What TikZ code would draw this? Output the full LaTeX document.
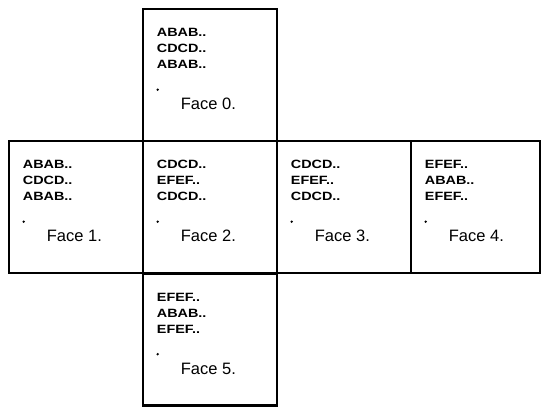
\documentclass[tikz,border=0pt]{standalone}
\usepackage{fontspec}
\setmainfont{Liberation Sans}
\newfontfamily\boldlab[FakeStretch=1.2]{Liberation Sans Bold}
\begin{document}
\begin{tikzpicture}[x=1pt,y=-1pt,
  face/.style={draw=black, line width=2.6pt, minimum width=134pt, minimum height=132pt, inner sep=0pt},
  lines/.style={anchor=base west, inner sep=0pt, font=\boldlab\fontsize{12}{14}\selectfont},
  facelab/.style={anchor=base west, inner sep=0pt, font=\fontsize{16.5}{20}\selectfont},
  dotmark/.style={circle, fill=black, inner sep=0pt, minimum size=2.6pt}]
\useasboundingbox (0,0) rectangle (542,410);
% faces
\node[face] (f0) at (210,75) {};
\node[face] (f1) at (76,207) {};
\node[face] (f2) at (210,207) {};
\node[face] (f3) at (344,207) {};
\node[face, minimum width=129pt] (f4) at (475.5,207) {};
\node[face] (f5) at (210,339.5) {};
% contents
\foreach \f/\a/\b/\c/\n in {f0/ABAB../CDCD../ABAB../0, f1/ABAB../CDCD../ABAB../1, f2/CDCD../EFEF../CDCD../2, f3/CDCD../EFEF../CDCD../3, f4/EFEF../ABAB../EFEF../4, f5/EFEF../ABAB../EFEF../5}{
  \node[lines] (\f a) at ([shift={(15,29)}]\f.north west) {\a};
  \node[lines] (\f b) at ([shift={(15,45)}]\f.north west) {\b};
  \node[lines] (\f c) at ([shift={(15,61)}]\f.north west) {\c};
  \node[dotmark] (\f d) at ([shift={(16,82)}]\f.north west) {};
  \node[facelab] (\f l) at ([shift={(39,102)}]\f.north west) {Face \n.};
}
\end{tikzpicture}
\end{document}
